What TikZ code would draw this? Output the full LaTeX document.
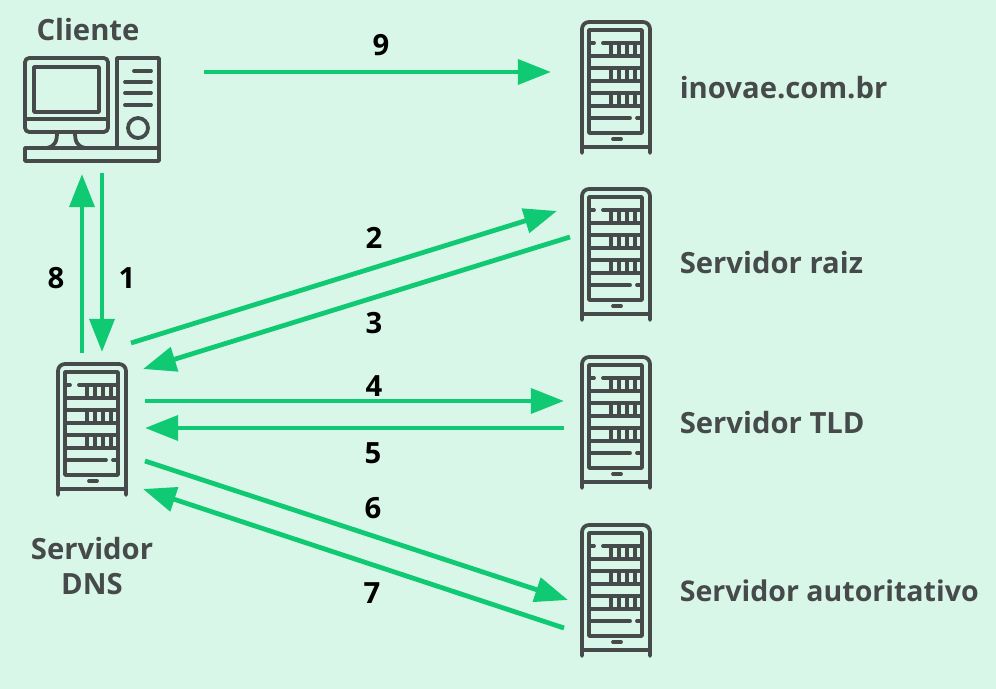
\documentclass[tikz,border=0pt]{standalone}
\usepackage{fontspec}
\setmainfont{Open Sans}
\usetikzlibrary{arrows.meta}
\definecolor{fundo}{HTML}{D9F7E9}
\definecolor{seta}{HTML}{0FC973}
\definecolor{escuro}{HTML}{474A4A}
\tikzset{
  flow/.style={draw=seta,line width=3.4pt,-{Triangle[length=23.5pt,width=17.5pt]}},
  rotulo/.style={text=escuro,font=\fontsize{20.8}{24}\selectfont\bfseries,inner sep=0pt},
  numero/.style={text=black,font=\fontsize{20.8}{24}\selectfont\bfseries,inner sep=0pt},
  icone/.style={draw=escuro,line width=2.7pt,line cap=round,line join=round},
  dente/.style={icone,line width=2.2pt,line cap=butt},
  servidor/.pic={
    \draw[icone,rounded corners=5pt] (-34,65) -- (-34,-66) -- (34,-66) -- (34,65) ;
    \draw[icone] (-34,59) -- (34,59) ;
    \draw[icone] (-27,-58) rectangle (26,45) ;
    \draw[icone] (-27,-45) -- (-22,-45) (-13,-45) -- (26,-45) ;
    \draw[icone] (-27,-32) -- (26,-32) (-27,-20) -- (26,-20) (-27,-7) -- (26,-7) (-27,5) -- (26,5) (-27,18) -- (26,18) ;
    \draw[icone] (-27,30) -- (14,30) (21,30) -- (26,30) ;
    \foreach \x in {-5,3,11,19}
      \draw[dente] (\x,-45) -- (\x,-32) (\x,-20) -- (\x,-7) (\x,5) -- (\x,18) ;
    \draw[icone] (-3,51) -- (5,51) ;
  },
}
\begin{document}
\begin{tikzpicture}[x=0.025cm,y=-0.025cm]
  \fill[fundo] (0,0) rectangle (996,689) ;
  \useasboundingbox (0,0) rectangle (996,689) ;
  % icones
  \pic at (616,88) {servidor} ;
  \pic at (616,255) {servidor} ;
  \pic at (616,423) {servidor} ;
  \pic at (616,591) {servidor} ;
  \pic at (92,430) {servidor} ;
  % cliente
  \draw[icone,rounded corners=3pt] (25,58) rectangle (108,132) ;
  \draw[icone] (34,67) rectangle (99,112) ;
  \draw[icone] (25,119) -- (108,119) ;
  \draw[icone] (57,132) .. controls (57,142) and (55,146) .. (47,148) ;
  \draw[icone] (75,132) .. controls (75,142) and (77,146) .. (85,148) ;
  \draw[icone] (25,148) rectangle (159,161) ;
  \draw[icone] (117,148) -- (117,58) -- (159,58) -- (159,148) ;
  \draw[icone] (134,71) -- (151,71) (125,82) -- (151,82) (125,93) -- (151,93) (125,105) -- (151,105) ;
  \draw[icone] (138,128) circle (10) ;
  % nomes
  \node[rotulo] (cliente) at (88,30) {Cliente} ;
  \node[rotulo,anchor=west] (inovae) at (679.5,88) {inovae.com.br} ;
  \node[rotulo,anchor=west] (raiz) at (679.5,263) {Servidor raiz} ;
  \node[rotulo,anchor=west] (tld) at (679.5,423) {Servidor TLD} ;
  \node[rotulo,anchor=west,font=\fontsize{20.3}{24}\selectfont\bfseries] (aut) at (679.5,591) {Servidor autoritativo} ;
  \node[rotulo,align=center] (dns) at (92,566) {Servidor\\[1pt]DNS} ;
  % pontas das setas
  \coordinate (a9) at (204,72) ;
  \coordinate (b9) at (551,72) ;
  \coordinate (a1) at (102,173) ;
  \coordinate (b1) at (102,352) ;
  \coordinate (a8) at (82,353) ;
  \coordinate (b8) at (82,174) ;
  \coordinate (a2) at (131,343) ;
  \coordinate (b2) at (557,211) ;
  \coordinate (a3) at (570,237) ;
  \coordinate (b3) at (143,369) ;
  \coordinate (a4) at (145,401) ;
  \coordinate (b4) at (564,401) ;
  \coordinate (a5) at (564,428) ;
  \coordinate (b5) at (145,428) ;
  \coordinate (a6) at (145,461) ;
  \coordinate (b6) at (568,600) ;
  \coordinate (a7) at (564,628) ;
  \coordinate (b7) at (143,489) ;
  \foreach \i in {1,...,9}
    \draw[flow] (a\i) -- (b\i) ;
  % numeros
  \node[numero] (n1) at (127,278) {1} ;
  \node[numero] (n2) at (374,238) {2} ;
  \node[numero] (n3) at (374,323) {3} ;
  \node[numero] (n4) at (374,386) {4} ;
  \node[numero] (n5) at (373,453) {5} ;
  \node[numero] (n6) at (373,508) {6} ;
  \node[numero] (n7) at (372,593) {7} ;
  \node[numero] (n8) at (56,278) {8} ;
  \node[numero] (n9) at (381,45) {9} ;
\end{tikzpicture}
\end{document}
